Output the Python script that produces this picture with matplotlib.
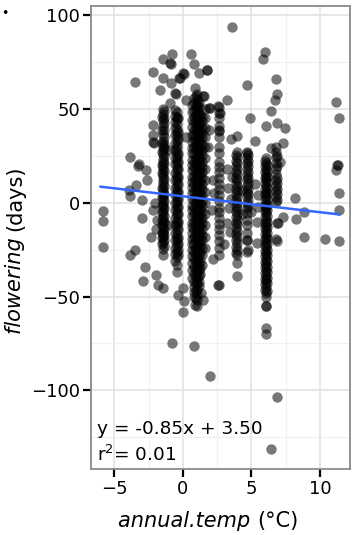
import numpy as np
import matplotlib
matplotlib.use("Agg")
import matplotlib.pyplot as plt
from matplotlib.ticker import MultipleLocator

# station columns (annual.temp, flowering values)
col_x = [-1.46, -0.45, 0.7, 1.0, 1.4, 2.65, 3.92, 4.72, 6.1, 6.8,
         -1.35, -0.55, 0.85, 1.15, 1.6, 6.0, 3.85, 4.75, 6.85,
         -1.55, -0.38, 0.95, 1.28, 6.16]
col_y = [
    [50, 47.5, 44, 41, 36.5, 33, 30.5, 28, 26, 23.5, 22, 19.5, 18, 15.5, 14, 11.5,
     10, 7.5, 6, 3.5, 2, -0.5, -2, -4.5, -6, -8.5, -11, -13, -15.5, -18, -21, -24.5, -28],
    [48.5, 46, 44.5, 42, 39.5, 37, 35.5, 33, 31, 29.5, 27, 25, 23.5, 21, 19, 17.5, 15,
     13, 11.5, 9, 7, 5.5, 3, 1, -0.5, -3, -5, -6.5, -9, -11, -12.5, -15, -17, -18.5,
     -21, -23, -26, -29, -33, -37],
    [52, 48.5, 44, 40.5, 36, 32.5, 29, 26.5, 23, 20, 17.5, 14, 11, 8.5, 5, 2, -1.5,
     -4, -7, -10.5, -13, -16, -19.5, -22, -25, -28.5, -32, -36, -40],
    [58, 55.5, 52, 50, 47.5, 45, 42, 40.5, 38, 35, 33.5, 31, 29, 27.5, 25, 23, 21.5,
     19, 17, 15.5, 13, 11, 9.5, 7, 5, 3.5, 1, -1, -2.5, -5, -7, -8.5, -11, -13, -14.5,
     -17, -19, -20.5, -23, -25, -26.5, -29, -31, -33.5, -35, -37, -40, -43, -46, -48.5,
     -52, -55],
    [46, 43.5, 40, 37, 34.5, 31, 28, 25.5, 22, 19, 16.5, 13, 10, 7.5, 4, 1, -1.5, -5,
     -8, -10.5, -14, -17, -20, -24, -28, -33],
    [51, 48, 45.5, 41, 38.5, 35, 30, 26.5, 22, 19, 16.5, 13, 10, 7.5, 4, 1, -2.5, -5,
     -8, -11.5, -14, -17, -20.5, -24, -28],
    [27, 24.5, 21, 18, 15.5, 12, 9, 6.5, 3, 0, -2.5, -6, -9, -11.5, -15, -18, -21.5,
     -25, -28, -32],
    [27, 24, 21.5, 18, 15, 12.5, 9, 6, 3.5, 0, -3, -5.5, -9, -12, -16, -20, -26],
    [24, 21.5, 18, 15, 12.5, 9, 6, 3.5, 0, -3, -5.5, -9, -12, -14.5, -18, -21, -23.5,
     -27, -30, -32.5, -36, -39, -41.5, -45, -48, -50, -55, -67, -70],
    [30, 27, 24.5, 21, 18, 15.5, 12, 9, 6.5, 3, 0.5],
    [49, 45.5, 42.5, 39, 35, 31.5, 29, 25, 21, 17, 12.5, 9, 4.5, 1, -3, -7, -10, -14,
     -17, -20, -23],
    [49.5, 46.5, 43, 40, 36, 32, 28, 24, 20.5, 16, 12, 8, 4, 0, -4, -8, -12, -16, -20,
     -24, -27.5, -31],
    [56, 53, 49, 46, 43, 39, 36.5, 34, 30, 26, 22, 18, 14, 10, 6, 2, -2, -6, -10, -14,
     -18, -22, -26, -30, -34, -38, -42, -45, -47.5, -50],
    [54, 51, 48, 44.5, 41, 37.5, 34, 30, 26, 22.5, 18, 14.5, 10.5, 6, 2.5, -1.5, -6,
     -10, -13.5, -17, -21, -25, -28, -32, -36, -39, -42, -44.5],
    [50, 45, 40, 35, 30, 24, 18, 12, 6, 0, -6, -12, -18, -24],
    [22.5, 19.5, 16.5, 13.5, 10.5, 7.5, 4.5, 1.5, -1.5, -4.5, -7.5, -10.5, -13.5,
     -16.5, -19.5, -22.5, -25.5, -28.5, -31.5, -34.5, -37.5, -40.5, -43.5, -46.5],
    [25.5, 22.5, 19.5, 16.5, 13.5, 10.5, 7.5, 4.5, 1.5, -1.5, -4.5, -7.5, -10.5,
     -13.5, -16.5, -20, -23.5, -27],
    [25.5, 22.5, 19.5, 16.5, 13.5, 10.5, 7.5, 4.5, 1.5, -1.5],
    [25, 19.5, 13.5, 10.5, 7.5, 4.5, 1.5],
    [46, 39, 32, 27, 20, 16, 8, 3, -1, -5, -9, -12, -16, -19, -22],
    [45, 38, 34, 26, 22, 18, 14, 10, 6, 2, -2, -6, -10, -14, -19, -22, -25, -28],
    [57, 51, 47, 43.5, 39.5, 33, 29.5, 24, 20.5, 16, 12.5, 8, 4, 0.5, -3.5, -8, -11.5,
     -16, -19.5, -24, -27.5, -31, -35.5, -39, -43, -47, -51],
    [47, 42, 38.5, 33, 28.5, 24, 20, 16, 12, 8, 4, 0, -4, -8, -12, -16, -20, -23,
     -27, -31, -35, -38],
    [20, 17, 14, 11, 8, 5, 2, -1, -4, -7, -10, -13, -16, -19, -22, -25, -28, -31, -34,
     -37, -40, -43, -47],
]

# scattered points (annual.temp, flowering)
pts = [
    (-3.48, 64.2), (-2.17, 70), (-1.44, 76.6), (-0.8, 79.3), (-0.88, 74), (-1.44, 66.8),
    (-0.88, 64), (-1.7, 60.3), (-0.53, 58.3), (-0.27, 66.4), (0.1, 68.6), (0.58, 79.3),
    (0.83, 74), (1.19, 69.5), (1.75, 70.9), (0.88, 61.2), (1.51, 57), (1.02, 53.5),
    (-0.93, 53.5), (2.0, 50.8), (-2.2, 41.4), (-2.17, 32.2), (-3.85, 24.2), (-3.19, 20.6),
    (3.6, 93.7), (6.03, 80.7), (5.86, 76.6), (6.8, 66), (4.7, 63), (6.84, 58), (6.74, 55),
    (6.4, 49), (3.26, 55), (4.9, 45), (6.1, 41), (6.84, 42.5), (7.47, 39.8), (7.3, 31.8),
    (5.26, 33.2), (3.92, 35.4), (3.55, 34), (11.17, 53.7), (11.4, 45), (11.27, 20.3),
    (11.17, 17.6), (2.58, 51.4), (1.92, 50.5), (2.7, 47.8), (1.48, 56.9), (1.73, 70.6),
    (0.02, 69), (-0.58, 58.5), (-0.95, 74.5), (-0.22, 66.5), (-2.17, 36), (-2.1, 31.8),
    (-3.26, 19.9), (-2.72, 17.6), (2.65, 38.6), (1.92, 39), (4.65, 26.5), (6.42, 29),
    (-5.86, -4.6), (-5.86, -9.6), (-5.86, -23.5), (-3.87, -27.7), (-3.5, -25),
    (-2.77, -34), (-2.94, -41.6), (-1.97, -38.4), (-1.8, -43.7), (-1.48, -45.5),
    (0.02, -45.5), (-0.34, -49), (0.1, -52.6), (0.02, -58.5), (0.88, -54.4),
    (1.36, -48.2), (1.48, -51.7), (2.58, -43.7), (3.92, -39.3), (4.77, -25),
    (5.38, -21.5), (4.65, -19.7), (3.43, -15.3), (3.19, -10.8), (6.1, -55.3),
    (6.84, -20.6), (6.96, -10.8), (7.32, -7.3), (8.25, -8.7), (8.22, 2.5), (8.83, -18),
    (8.83, -5), (10.36, -19.2), (11.4, -20.6), (11.4, -3.8), (11.4, 5.2), (11.3, 20),
    (-3.43, 9.6), (-3.0, 1.6), (-3.0, -8.2), (-3.87, 3.4), (-3.9, 7), (-2.65, 12.3),
    (-1.92, -9), (-1.48, -16), (-2.17, -3.7), (-2.05, 0), (6.9, -10.5), (6.77, -19.4),
    (2.63, -43.7), (-0.78, -74.8), (0.83, -76.3), (1.97, -92.6), (6.89, -103.8),
    (6.42, -131.2), (3.3, 8), (3.35, -3), (2.2, 12), (2.1, -4), (1.85, 30), (3.2, 18),
    (5.3, 10), (5.5, -2), (5.45, 4), (4.3, 7), (4.35, -6), (3.5, 2), (-1.0, 28),
    (-1.05, -12), (0.2, 35), (0.25, 55), (2.2, -30), (3.0, -22), (5.4, -10), (7.1, 22),
    (-2.3, -18), (-1.95, -14), (2.25, 5), (3.6, 14), (5.0, -5),
]

# fitted line from the annotation
slope, intercept = -0.85, 3.50
fit_x = [-6.0, 11.4]
eq_text = "y = -0.85x + 3.50"
r2_text = "r$^2$= 0.01"

plt.rcParams['font.family'] = ['DejaVu Sans']

W, H = 353, 535
fig = plt.figure(figsize=(W / 100, H / 100), dpi=100, facecolor="white")
ax = fig.add_axes([91 / W, 1 - 469 / H, 259 / W, 463 / H])

xs = []
ys = []
for cx, cy in zip(col_x, col_y):
    xs += [cx] * len(cy)
    ys += cy
xs += [p[0] for p in pts]
ys += [p[1] for p in pts]
ax.scatter(xs, ys, s=56, color="black", alpha=0.53, linewidths=0, zorder=3)

fx = np.array(fit_x)
ax.plot(fx, slope * fx + intercept, color="#3366FF", lw=1.8, zorder=4)

ax.set_xlim(-6.7, 12.2)
ax.set_ylim(-142, 105)
ax.xaxis.set_major_locator(MultipleLocator(5))
ax.xaxis.set_minor_locator(MultipleLocator(2.5))
ax.yaxis.set_major_locator(MultipleLocator(50))
ax.yaxis.set_minor_locator(MultipleLocator(25))
ax.grid(which="major", color="#e3e3e3", lw=1.2, zorder=0)
ax.grid(which="minor", color="#f0f0f0", lw=0.8, zorder=0)
ax.set_axisbelow(True)
for sp in ax.spines.values():
    sp.set_color("#8a8a8a")
    sp.set_linewidth(1.3)
ax.tick_params(which="major", length=6, width=1.6, color="black",
               labelsize=13, pad=2)
ax.tick_params(which="minor", length=0)

# axis titles: italic variable name followed by upright unit
r = fig.canvas.get_renderer()
t1 = fig.text(118 / W, 1 - 527 / H, "annual.temp ", style="italic", fontsize=15,
              va="baseline", ha="left")
bb = t1.get_window_extent(r)
fig.text(bb.x1 / W, 1 - 527 / H, "(°C)", fontsize=15, va="baseline", ha="left")

t2 = fig.text(21 / W, 1 - 334 / H, "flowering ", style="italic", fontsize=15,
              rotation=90, rotation_mode="anchor", va="baseline", ha="left")
bb = t2.get_window_extent(r)
fig.text(21 / W, bb.y1 / H, "(days)", fontsize=15, rotation=90,
         rotation_mode="anchor", va="baseline", ha="left")

ax.text(0.022, 0.076, eq_text, transform=ax.transAxes, fontsize=13.3, va="baseline")
ax.text(0.022, 0.018, r2_text, transform=ax.transAxes, fontsize=13.3, va="baseline")

fig.text(0.003, 0.968, "•", fontsize=9, color="black")

fig.savefig("out.png", dpi=100)
